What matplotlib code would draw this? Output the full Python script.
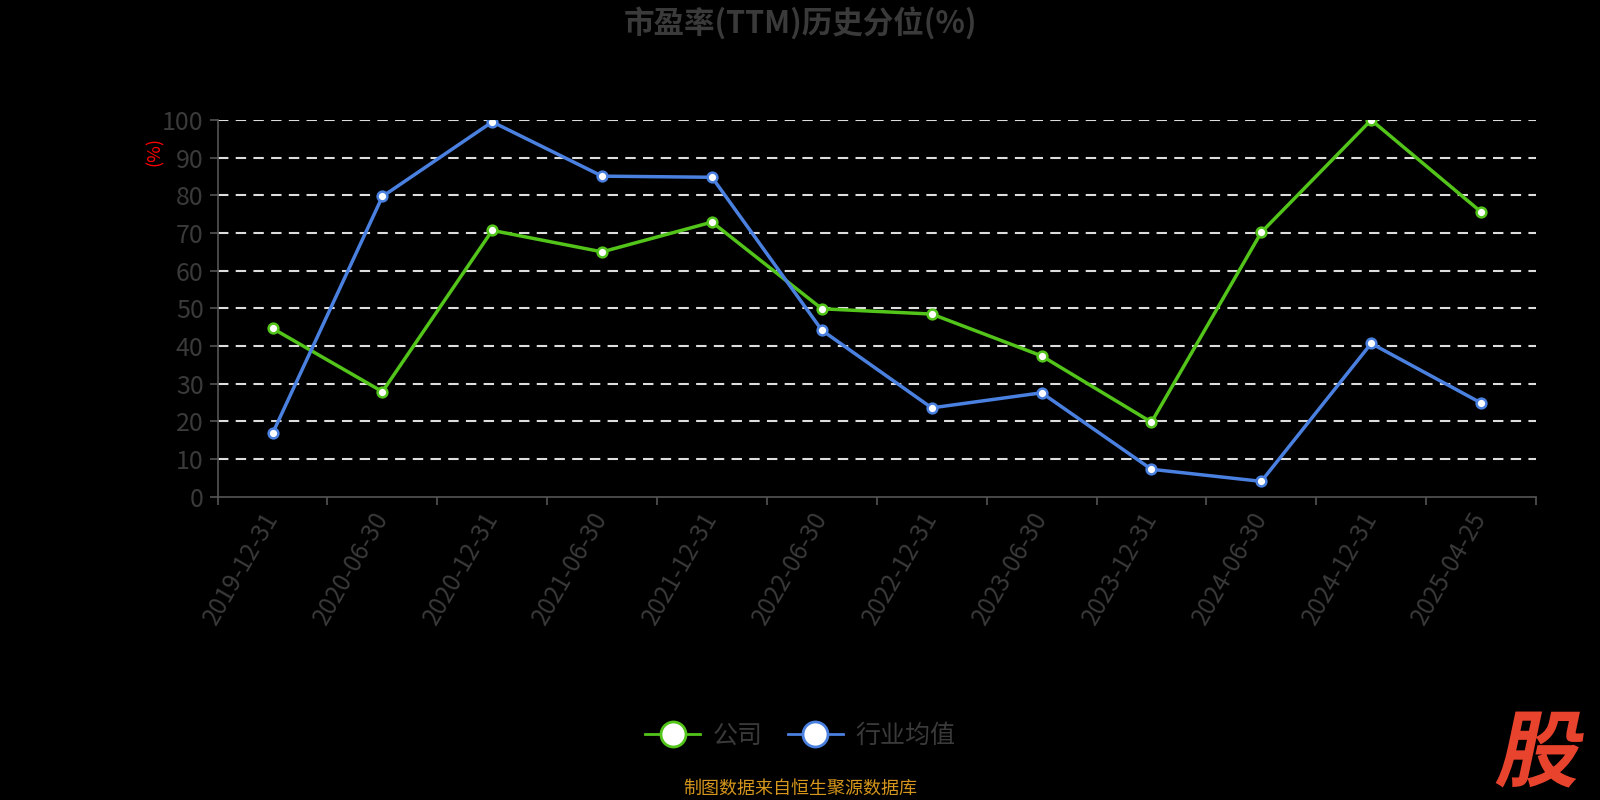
import matplotlib
matplotlib.use("Agg")
import matplotlib.pyplot as plt
from matplotlib.textpath import TextPath
from matplotlib.patches import PathPatch
from matplotlib.font_manager import FontProperties
from matplotlib.transforms import Affine2D
from matplotlib.lines import Line2D

plt.rcParams['font.family'] = ['Noto Sans CJK SC', 'DejaVu Sans']

dates = ['2019-12-31', '2020-06-30', '2020-12-31', '2021-06-30', '2021-12-31', '2022-06-30',
         '2022-12-31', '2023-06-30', '2023-12-31', '2024-06-30', '2024-12-31', '2025-04-25']
company = [44.7, 27.9, 70.7, 65.0, 72.9, 49.9, 48.5, 37.4, 19.8, 70.2, 100.0, 75.6]
industry = [16.8, 79.7, 99.5, 85.1, 84.8, 44.2, 23.6, 27.6, 7.3, 4.1, 40.7, 24.9]
yticks = list(range(0, 101, 10))

green = '#52c41a'
blue = '#4a80e0'
gray_txt = '#3a3a3a'

fig = plt.figure(figsize=(16, 8), dpi=100, facecolor='black')
ax = fig.add_axes([0.136, 0.379, 0.824, 0.471])
ax.set_facecolor('black')

x = list(range(len(dates)))
ax.plot(x, company, color=green, lw=2.5, marker='o', ms=7, mfc='white', mec=green, mew=1.8, zorder=3)
ax.plot(x, industry, color=blue, lw=2.5, marker='o', ms=7, mfc='white', mec=blue, mew=1.8, zorder=3)

ax.set_xlim(-0.5, len(dates) - 0.5)
ax.set_ylim(0, 100)
ax.set_yticks(yticks)
ax.set_yticklabels([str(v) for v in yticks], fontsize=18, color=gray_txt)
for v in yticks[1:]:
    ax.axhline(v, color='#dddddd', lw=1.5, ls=(0, (5, 3.5)), zorder=1)

# band boundaries get the tick marks, band centres get the labels
ax.set_xticks([i - 0.5 for i in range(len(dates) + 1)], minor=False)
ax.set_xticklabels([''] * (len(dates) + 1))
ax.set_xticks(x, minor=True)
ax.set_xticklabels(dates, minor=True, rotation=60, ha='right', va='center', rotation_mode='anchor',
                   fontsize=17.5, color=gray_txt)
ax.tick_params(axis='x', which='major', length=6, color='#555555', width=1.2)
ax.tick_params(axis='x', which='minor', length=0, pad=12)
ax.tick_params(axis='y', length=6, color='#555555', width=1.2, pad=4)

for s in ['top', 'right']:
    ax.spines[s].set_visible(False)
ax.spines['left'].set_color('#555555')
ax.spines['bottom'].set_color('#555555')
ax.spines['left'].set_linewidth(1.2)
ax.spines['bottom'].set_linewidth(1.2)

fig.text(0.097, 0.81, '(%)', color='red', fontsize=13, rotation=90, ha='center', va='center')

fig.text(0.5, 0.971, '市盈率(TTM)历史分位(%)', color=gray_txt, fontsize=22, fontweight='bold',
         ha='center', va='center')

handles = [Line2D([], [], color=green, lw=2, marker='o', ms=18, mfc='white', mec=green, mew=2),
           Line2D([], [], color=blue, lw=2, marker='o', ms=18, mfc='white', mec=blue, mew=2)]
fig.legend(handles, ['公司', '行业均值'], loc='center', bbox_to_anchor=(0.5, 0.08), ncol=2,
           frameon=False, fontsize=18, labelcolor=gray_txt, handlelength=2.2, columnspacing=1.0,
           handletextpad=0.5)

fig.text(0.5, 0.014, '制图数据来自恒生聚源数据库', color='#d4961c', fontsize=13, ha='center', va='center')

fp = FontProperties(family='Noto Sans CJK SC', weight='bold')
tp = TextPath((0, 0), '股', size=84, prop=fp)
tr = Affine2D().skew_deg(12, 0).translate(1494, 20)
patch = PathPatch(tr.transform_path(tp), color='#e8432d', lw=0, transform=None)
fig.patches.append(patch)

fig.savefig('out.png', dpi=100, facecolor='black')
